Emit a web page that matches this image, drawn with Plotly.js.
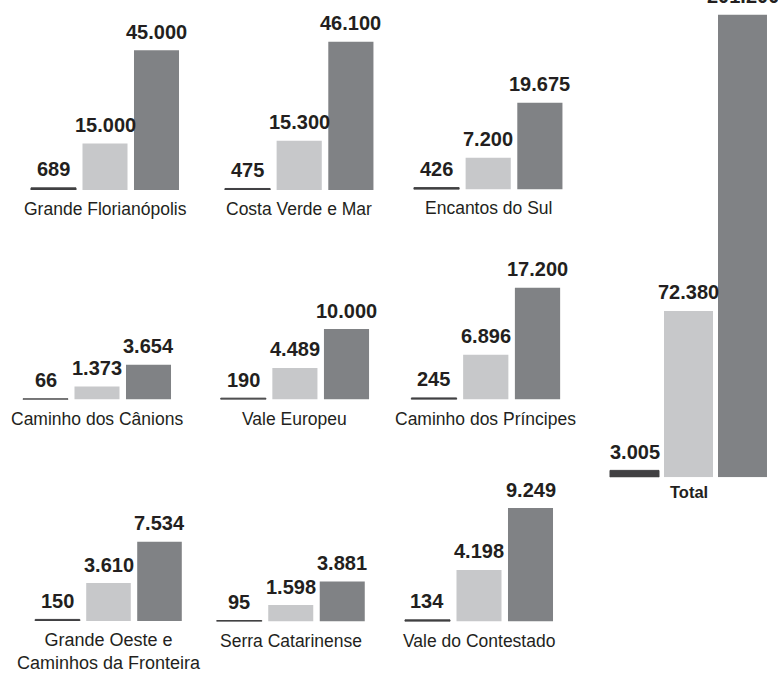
<!DOCTYPE html>
<html>
<head>
<meta charset="utf-8">
<script src="https://cdn.plot.ly/plotly-3.0.1.min.js"></script>
<style>html,body{margin:0;padding:0;background:#fff;}#chart{width:778px;height:678px;}</style>
</head>
<body>
<div id="chart"></div>
<script>
// ---- data ----
const regions = ['Grande Florianópolis', 'Costa Verde e Mar', 'Encantos do Sul',
  'Caminho dos Cânions', 'Vale Europeu', 'Caminho dos Príncipes',
  'Grande Oeste e<br>Caminhos da Fronteira', 'Serra Catarinense', 'Vale do Contestado', 'Total'];
const seriesA = [689, 475, 426, 66, 190, 245, 150, 95, 134, 3005];
const seriesB = [15000, 15300, 7200, 1373, 4489, 6896, 3610, 1598, 4198, 72380];
const seriesC = [45000, 46100, 19675, 3654, 10000, 17200, 7534, 3881, 9249, 201200];

// ---- layout geometry (pixels) ----
const W = 778, H = 678;
const panelLeft  = [27.75, 221.7, 410.7, 19.75, 217.5, 408.1, 32, 213.5, 401.75, 607.5];
const panelRight = [182.25, 376.7, 565.7, 174.25, 372.3, 563.4, 185, 368, 556.25, 769.5];
const panelBase  = [190, 190, 189.5, 399.5, 399.5, 399.5, 621, 621.5, 621.5, 477.3];
const panelTop   = [20, 20, 20, 230, 230, 230, 450, 450, 450, 0];
const unitsPerPx = [322, 311, 227, 105, 142, 154, 95, 97, 81.5, 435];
const barWidth   = [0.874, 0.874, 0.874, 0.874, 0.874, 0.874, 0.874, 0.874, 0.874, 0.907];
const colors = ['#414042', '#c7c8ca', '#808285'];
const textColor = '#231f20';
const fam = 'Liberation Sans, Arial, sans-serif';

// Brazilian thousands separator
const fmt = v => String(v).replace(/\B(?=(\d{3})+(?!\d))/g, '.');

const traces = [];
const layout = {
  width: W, height: H,
  margin: {l: 0, r: 0, t: 0, b: 0},
  paper_bgcolor: '#ffffff', plot_bgcolor: 'rgba(0,0,0,0)',
  showlegend: false,
  annotations: []
};

regions.forEach((name, i) => {
  const n = i + 1;
  const xa = n === 1 ? 'x' : 'x' + n;
  const ya = n === 1 ? 'y' : 'y' + n;
  const vals = [seriesA[i], seriesB[i], seriesC[i]];
  traces.push({
    type: 'bar',
    x: [0, 1, 2],
    y: vals,
    xaxis: xa, yaxis: ya,
    width: barWidth[i],
    marker: {color: colors, line: {color: colors, width: [1, 0, 0]}},
    cliponaxis: false,
    hoverinfo: 'skip'
  });
  vals.forEach((v, k) => {
    layout.annotations.push({
      xref: xa, yref: ya, x: k, y: v,
      xanchor: 'center', yanchor: 'bottom', yshift: 5.5,
      showarrow: false, text: '<b>' + fmt(v) + '</b>',
      font: {family: fam, size: 20, color: textColor}
    });
  });
  const axX = {
    domain: [panelLeft[i] / W, panelRight[i] / W],
    range: [-0.5, 2.5], anchor: ya,
    showgrid: false, zeroline: false, showline: false, showticklabels: false, ticks: '', fixedrange: true
  };
  const axY = {
    domain: [1 - panelBase[i] / H, 1 - panelTop[i] / H],
    range: [0, unitsPerPx[i] * (panelBase[i] - panelTop[i])], anchor: xa,
    showgrid: false, zeroline: false, showline: false, showticklabels: false, ticks: '', fixedrange: true
  };
  layout[n === 1 ? 'xaxis' : 'xaxis' + n] = axX;
  layout[n === 1 ? 'yaxis' : 'yaxis' + n] = axY;
  const isTotal = i === regions.length - 1;
  const twoLine = name.indexOf('<br>') !== -1;
  layout.annotations.push({
    xref: xa + ' domain', yref: ya + ' domain',
    x: 0.5, y: 0, xanchor: 'center', yanchor: 'top',
    yshift: isTotal ? -4 : -7,
    showarrow: false,
    text: isTotal ? '<b>' + name + '</b>' : name,
    font: {family: fam, size: isTotal ? 16.5 : (twoLine ? 18 : 17.5), color: textColor}
  });
});

Plotly.newPlot('chart', traces, layout, {displayModeBar: false, staticPlot: true});
</script>
</body>
</html>
